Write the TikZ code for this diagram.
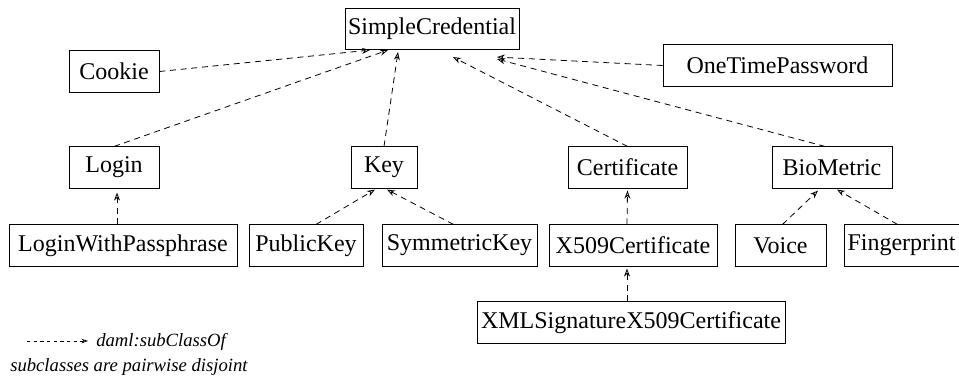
\documentclass[tikz,border=0pt]{standalone}
\usepackage{fontspec}
\setmainfont{Liberation Serif}
\usetikzlibrary{arrows.meta}
\begin{document}
\begin{tikzpicture}[x=0.75pt, y=-0.75pt,
    cls/.style={draw, line width=0.6pt, inner sep=0pt, minimum height=31pt, font=\fontsize{18}{21}\selectfont},
    isa/.style={line width=0.6pt, dash pattern=on 4.5pt off 3.5pt, -{Stealth[open, length=6pt, width=4.5pt]}},
    legendisa/.style={line width=0.5pt, dash pattern=on 2.5pt off 2.5pt, -{Stealth[open, length=5pt, width=3.5pt]}},
    legendtxt/.style={anchor=west, inner sep=0pt, font=\fontsize{14}{17}\selectfont\itshape}]
    \useasboundingbox (0,0) rectangle (959,380);
    % classes
    \node[cls, minimum width=130.5pt] (SC) at (432,29) {SimpleCredential};
    \node[cls, minimum width=67.5pt] (Cookie) at (114,71.5) {Cookie};
    \node[cls, minimum width=171.75pt] (OTP) at (777.5,65.5) {OneTimePassword};
    \node[cls, minimum width=67.5pt] (Login) at (114,167.5) {Login};
    \node[cls, minimum width=49.5pt] (Key) at (384,167.5) {Key};
    \node[cls, minimum width=89.25pt] (Cert) at (627.5,167.5) {Certificate};
    \node[cls, minimum width=90pt] (Bio) at (832,167.5) {BioMetric};
    \node[cls, minimum width=171pt] (LWP) at (123,245.5) {LoginWithPassphrase};
    \node[cls, minimum width=85.5pt] (PubKey) at (306,245.5) {PublicKey};
    \node[cls, minimum width=116.25pt] (SymKey) at (459.5,245.5) {SymmetricKey};
    \node[cls, minimum width=126pt] (X509) at (633,245.5) {X509Certificate};
    \node[cls, minimum width=68.25pt] (Voice) at (780.5,245.5) {Voice};
    \node[cls, minimum width=86.25pt] (Finger) at (901.5,245.5) {Fingerprint};
    \node[cls, minimum width=231pt] (XMLSig) at (631,322.5) {XMLSignatureX509Certificate};
    % subClassOf links
    \draw[isa] (Cookie.east) -- ([shift={(-62,0)}]SC.south);
    \draw[isa] (Login.north) -- ([shift={(-44,0)}]SC.south);
    \draw[isa] (Key.north) -- ([shift={(-34,2)}]SC.south);
    \draw[isa] (Cert.north) -- ([shift={(21,7)}]SC.south);
    \draw[isa] (OTP.west) -- ([shift={(65,7)}]SC.south);
    \draw[isa] ([shift={(-7,0)}]Bio.north) -- ([shift={(65,9)}]SC.south);
    \draw[isa] ([shift={(-6,0)}]LWP.north) -- ([shift={(3,4)}]Login.south);
    \draw[isa] ([shift={(10,0)}]PubKey.north) -- ([shift={(-9,1)}]Key.south);
    \draw[isa] ([shift={(-6,0)}]SymKey.north) -- ([shift={(3,1)}]Key.south);
    \draw[isa] ([shift={(-6,0)}]X509.north) -- ([shift={(0,2)}]Cert.south);
    \draw[isa] ([shift={(-4,0)}]XMLSig.north) -- ([shift={(-6,2)}]X509.south);
    \draw[isa] ([shift={(2,0)}]Voice.north) -- ([shift={(-14,2)}]Bio.south);
    \draw[isa] ([shift={(-4,0)}]Finger.north) -- ([shift={(5,1)}]Bio.south);
    % legend
    \coordinate (legA) at (27,341);
    \coordinate (legB) at (88,341);
    \draw[legendisa] (legA) -- (legB);
    \node[legendtxt] (legSub) at (96,342) {daml:subClassOf};
    \node[legendtxt] (legDis) at (10,367) {subclasses are pairwise disjoint};
\end{tikzpicture}
\end{document}
